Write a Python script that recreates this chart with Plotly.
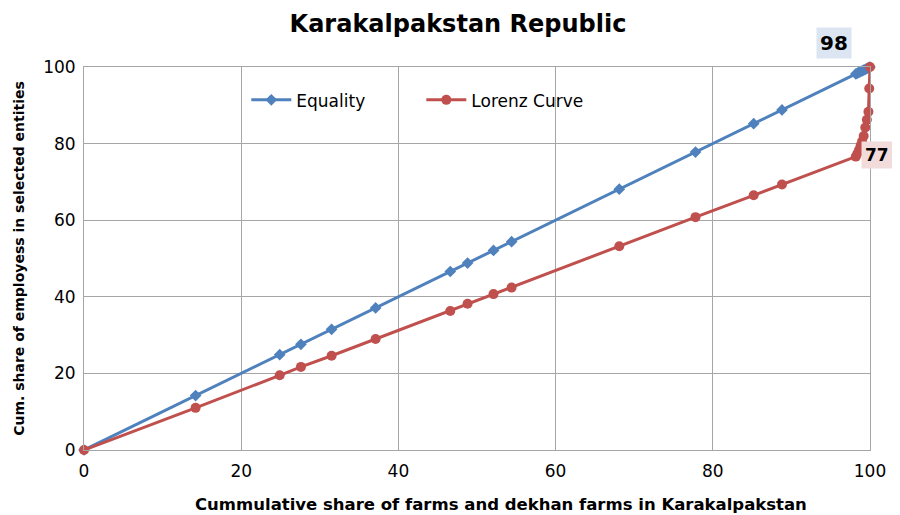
import plotly.graph_objects as go

# cumulative share of farms (x) and employees (y), in percent
farm_share = [0, 14.2, 24.9, 27.6, 31.5, 37.1, 46.6, 48.8, 52.1, 54.4, 68.1, 77.8,
              85.2, 88.8, 98.2, 98.4, 98.6, 98.8, 99.0, 99.2, 99.4, 99.6, 99.8, 99.9, 100]
equality = [0, 14.2, 24.9, 27.6, 31.5, 37.1, 46.6, 48.8, 52.1, 54.4, 68.1, 77.8,
            85.2, 88.8, 98.2, 98.4, 98.6, 98.8, 99.0, 99.2, 99.4, 99.6, 99.8, 99.9, 100]
lorenz = [0, 11.0, 19.5, 21.7, 24.6, 29.0, 36.3, 38.2, 40.7, 42.4, 53.2, 60.8,
          66.5, 69.3, 76.6, 77.4, 78.3, 79.4, 80.6, 82.0, 84.2, 86.2, 88.3, 94.4, 100]

BLUE = "#4F81BD"
RED = "#C0504D"
FONT = "DejaVu Sans, Liberation Sans, Arial"

fig = go.Figure()
fig.add_trace(go.Scatter(
    x=farm_share, y=equality, name="Equality", mode="lines+markers",
    line=dict(color=BLUE, width=3),
    marker=dict(symbol="diamond", size=9, color=BLUE),
    cliponaxis=False,
))
fig.add_trace(go.Scatter(
    x=farm_share, y=lorenz, name="Lorenz Curve", mode="lines+markers",
    line=dict(color=RED, width=3),
    marker=dict(symbol="circle", size=10, color=RED),
    cliponaxis=False,
))

# value call-outs (paper coords so they can sit outside the plot area)
fig.add_annotation(x=0.954, y=1.063, xref="paper", yref="paper", text="<b>98</b>",
                   showarrow=False, font=dict(size=20, color="black", family=FONT),
                   bgcolor="#DCE6F2", borderpad=3, xanchor="center", yanchor="middle")
fig.add_annotation(x=1.009, y=0.77, xref="paper", yref="paper", text="<b>77</b>",
                   showarrow=False, font=dict(size=17, color="black", family=FONT),
                   bgcolor="#F2DCDB", borderpad=3, xanchor="center", yanchor="middle")

# x-axis title sits a little right of centre in the original
fig.add_annotation(x=0.53, y=-0.143, xref="paper", yref="paper",
                   text="<b>Cummulative share of farms and dekhan farms in Karakalpakstan</b>",
                   showarrow=False, font=dict(size=16.5, color="black", family=FONT),
                   xanchor="center", yanchor="middle")

fig.update_layout(
    width=900, height=515,
    paper_bgcolor="white", plot_bgcolor="white",
    margin=dict(l=76, r=38, t=59, b=73),
    font=dict(family=FONT, size=17, color="black"),
    title=dict(text="<b>Karakalpakstan Republic</b>", x=0.5, xanchor="center",
               y=0.97, yanchor="middle", font=dict(size=24)),
    legend=dict(orientation="h", x=0.2065, y=0.913, xanchor="left", yanchor="middle",
                bgcolor="rgba(0,0,0,0)", font=dict(size=17), itemwidth=40,
                entrywidth=120),
    xaxis=dict(
        range=[0, 100], dtick=20, tick0=0, automargin=False,
        showgrid=True, gridcolor="#A6A6A6", gridwidth=1,
        showline=True, linecolor="#A6A6A6", linewidth=1, mirror=True,
        zeroline=False, ticks="", ticklabelstandoff=6,
    ),
    yaxis=dict(
        range=[0, 100], dtick=20, tick0=0, automargin=False,
        showgrid=True, gridcolor="#A6A6A6", gridwidth=1,
        showline=True, linecolor="#A6A6A6", linewidth=1, mirror=True,
        zeroline=False, ticks="", ticklabelstandoff=4,
        title=dict(text="<b>Cum. share of employess in selected entities</b>",
                   font=dict(size=14)),
    ),
)

fig.write_html("out.html")
